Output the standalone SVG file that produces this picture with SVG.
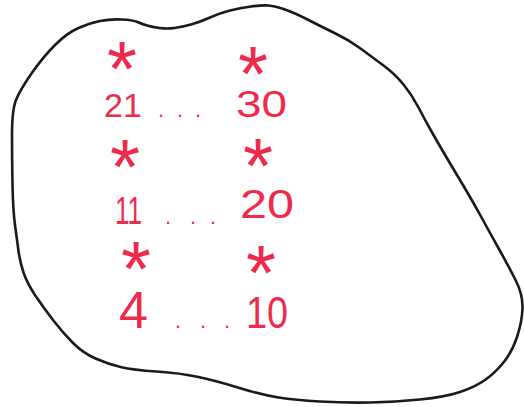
<svg xmlns="http://www.w3.org/2000/svg" width="524" height="407" viewBox="0 0 524 407">
<style>
.outline{fill:none;stroke:#1a1a1a;stroke-width:2.6;stroke-linejoin:round}
.num{font-family:"Liberation Sans",Arial,sans-serif;fill:#ef2a4c}
.star{font-family:"Liberation Sans",Arial,sans-serif;fill:#ef2a4c;font-size:77px;text-anchor:middle}
.dot{font-size:22px}
</style>
<rect width="524" height="407" fill="#ffffff"/>
<path class="outline" d="M16,100 Q20,90 31.5,73.5 Q43,57 55,45 Q67,33 78.5,28 Q90,23 100,21 Q110,19 121.5,19.5 Q133,20 137.5,22 Q142,24 147,25.5 Q152,27 159.5,28 Q167,29 174.5,28 Q182,27 191,24.5 Q200,22 210,17.5 Q220,13 230,10.5 Q240,8 251,6.5 Q262,5 268.5,5.5 Q275,6 285,9.5 Q295,13 308.5,20 Q322,27 335.5,33.5 Q349,40 360.5,48.5 Q372,57 383.5,65.5 Q395,74 403.5,84.5 Q412,95 418.5,107.5 Q425,120 433.5,135 Q442,150 457,175 Q472,200 481,216.5 Q490,233 499.5,250 Q509,267 516,281 Q523,295 522.5,308.5 Q522,322 517,337 Q512,352 503.5,362.5 Q495,373 485,380 Q475,387 460,392 Q445,397 420,399.5 Q395,402 370,402.5 Q345,403 320,401.5 Q295,400 278.5,397.5 Q262,395 239.5,388 Q217,381 198.5,377 Q180,373 156.5,371.5 Q133,370 120.5,367 Q108,364 95.5,358.5 Q83,353 73,343 Q63,333 53,320 Q43,307 35,295 Q27,283 23.5,272.5 Q20,262 18.5,251 Q17,240 15,225 Q13,210 12.5,185 Q12,160 12,135 Q12,110 16,100 Z"/>
<g id="row-top">
<text class="star" x="122" y="96">*</text>
<text class="star" x="253" y="101">*</text>
<text class="num" y="117" font-size="34"><tspan x="104">21</tspan><tspan class="dot" x="158">.</tspan><tspan class="dot" x="177">.</tspan><tspan class="dot" x="195">.</tspan><tspan x="236" font-size="37" textLength="51" lengthAdjust="spacingAndGlyphs">30</tspan></text>
</g>
<g id="row-middle">
<text class="star" x="125" y="194">*</text>
<text class="star" x="258" y="193">*</text>
<text class="num" y="224" font-size="38"><tspan x="115" textLength="27" lengthAdjust="spacingAndGlyphs">11</tspan><tspan class="dot" x="165">.</tspan><tspan class="dot" x="190">.</tspan><tspan class="dot" x="210">.</tspan><tspan x="240" y="218" font-size="41" textLength="54" lengthAdjust="spacingAndGlyphs">20</tspan></text>
</g>
<g id="row-bottom">
<text class="star" x="136" y="296">*</text>
<text class="star" x="261" y="300">*</text>
<text class="num" y="328" font-size="52"><tspan x="119">4</tspan><tspan class="dot" x="175" font-size="22">.</tspan><tspan class="dot" x="200" font-size="22">.</tspan><tspan class="dot" x="224" font-size="22">.</tspan><tspan x="246" font-size="45" textLength="42" lengthAdjust="spacingAndGlyphs">10</tspan></text>
</g>
</svg>
